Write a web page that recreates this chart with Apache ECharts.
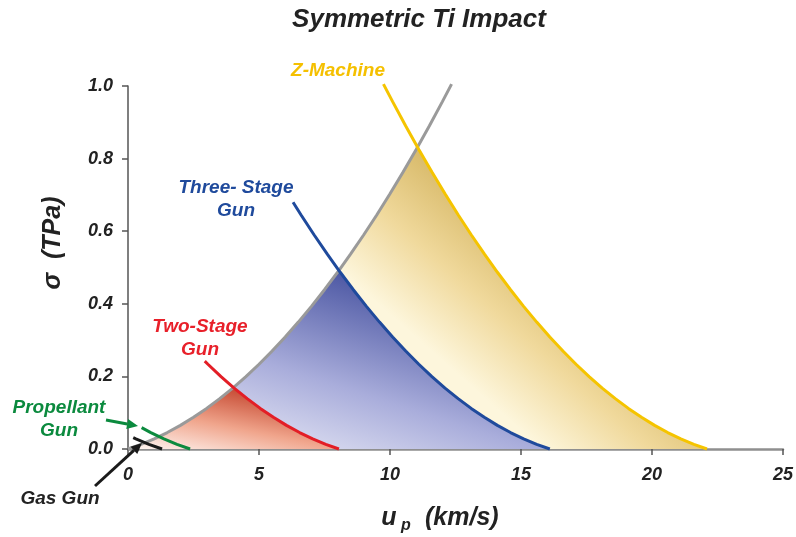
<!DOCTYPE html>
<html>
<head>
<meta charset="utf-8">
<title>Symmetric Ti Impact</title>
<script src="https://cdn.jsdelivr.net/npm/echarts@6/dist/echarts.min.js"></script>
<style>
  html, body { margin: 0; padding: 0; background: #ffffff; }
  #chart { width: 796px; height: 537px; }
</style>
</head>
<body>
<div id="chart"></div>
<script>
// Principal Hugoniot of Ti: stress sigma (TPa) against particle velocity u_p (km/s)
const hugoniot = [
  [0, 0], [0.5, 0.0127], [1, 0.0278], [1.5, 0.0453], [2, 0.0651], [2.5, 0.0873],
  [3, 0.1118], [3.5, 0.1387], [4, 0.1679], [4.5, 0.1995], [5, 0.2335], [5.5, 0.2698],
  [6, 0.3085], [6.5, 0.3496], [7, 0.3930], [7.5, 0.4388], [8, 0.4869], [8.5, 0.5374],
  [9, 0.5902], [9.5, 0.6454], [10, 0.7030], [10.5, 0.7629], [11, 0.8252], [11.5, 0.8899],
  [12, 0.9569], [12.35, 1.0052]
];

// Reflected impactor Hugoniots, one per launcher
const gasGun = [[0.2, 0.0311], [0.3, 0.0278], [0.8, 0.0127], [1.3, 0]];
const propellantGun = [[0.52, 0.0589], [0.87, 0.0453], [1.37, 0.0278], [1.87, 0.0127], [2.37, 0]];
const twoStageGun = [
  [2.93, 0.2420], [3.05, 0.2335], [3.55, 0.1995], [4.05, 0.1679], [4.55, 0.1387],
  [5.05, 0.1118], [5.55, 0.0873], [6.05, 0.0651], [6.55, 0.0453], [7.05, 0.0278],
  [7.55, 0.0127], [8.05, 0]
];
const threeStageGun = [
  [6.3, 0.6797], [6.6, 0.6454], [7.1, 0.5902], [7.6, 0.5374], [8.1, 0.4869], [8.6, 0.4388],
  [9.1, 0.3930], [9.6, 0.3496], [10.1, 0.3085], [10.6, 0.2698], [11.1, 0.2335],
  [11.6, 0.1995], [12.1, 0.1679], [12.6, 0.1387], [13.1, 0.1118], [13.6, 0.0873],
  [14.1, 0.0651], [14.6, 0.0453], [15.1, 0.0278], [15.6, 0.0127], [16.1, 0]
];
const zMachine = [
  [9.75, 1.0052], [10.1, 0.9569], [10.6, 0.8899], [11.1, 0.8252], [11.6, 0.7629],
  [12.1, 0.7030], [12.6, 0.6454], [13.1, 0.5902], [13.6, 0.5374], [14.1, 0.4869],
  [14.6, 0.4388], [15.1, 0.3930], [15.6, 0.3496], [16.1, 0.3085], [16.6, 0.2698],
  [17.1, 0.2335], [17.6, 0.1995], [18.1, 0.1679], [18.6, 0.1387], [19.1, 0.1118],
  [19.6, 0.0873], [20.1, 0.0651], [20.6, 0.0453], [21.1, 0.0278], [21.6, 0.0127], [22.1, 0]
];

// Where each impactor curve meets the Hugoniot (symmetric impact: u_p = v/2)
const twoStageCross = [4.025, 0.1695];
const threeStageCross = [8.05, 0.4918];
const zMachineCross = [11.05, 0.8316];

const xTicks = [0, 5, 10, 15, 20, 25];
const yTicks = [0.0, 0.2, 0.4, 0.6, 0.8, 1.0];

// Accessible states: under the Hugoniot up to the crossing, then under the impactor curve
function region(curve, cross) {
  const left = hugoniot.filter(p => p[0] < cross[0]);
  const right = curve.filter(p => p[0] > cross[0]);
  return left.concat([cross], right);
}

const FONT = '"Liberation Sans", Arial, sans-serif';
const textBase = { fontFamily: FONT, fontStyle: 'italic', fontWeight: 'bold' };

// Shading runs from pale at the lower left to deep at the peak
function grad(dir, stops) {
  return {
    type: 'linear', x: dir[0], y: dir[1], x2: dir[2], y2: dir[3],
    colorStops: stops.map((c, i) => ({ offset: i / (stops.length - 1), color: c }))
  };
}

function fillSeries(name, data, dir, stops) {
  return {
    name, type: 'line', data, symbol: 'none', silent: true,
    lineStyle: { width: 0, opacity: 0 },
    areaStyle: { color: grad(dir, stops), opacity: 1 }
  };
}

function curveSeries(name, data, color, width) {
  return {
    name, type: 'line', data, symbol: 'none', silent: true, clip: false,
    lineStyle: { color, width: width || 3 }
  };
}

function arrow(x1, y1, x2, y2, color) {
  const ang = Math.atan2(y2 - y1, x2 - x1);
  const hl = 11, hw = 5;
  const bx = x2 - hl * Math.cos(ang), by = y2 - hl * Math.sin(ang);
  const nx = -Math.sin(ang), ny = Math.cos(ang);
  return [
    { type: 'line', z: 100, shape: { x1, y1, x2: bx, y2: by }, style: { stroke: color, lineWidth: 3 } },
    { type: 'polygon', z: 100, shape: { points: [[x2, y2], [bx + nx * hw, by + ny * hw], [bx - nx * hw, by - ny * hw]] },
      style: { fill: color } }
  ];
}

function label(text, x, y, color, size) {
  return {
    type: 'text', z: 100, x, y,
    style: Object.assign({}, textBase, {
      text, fill: color, fontSize: size || 19, align: 'center', verticalAlign: 'middle', lineHeight: 23
    })
  };
}

const chart = echarts.init(document.getElementById('chart'), null, { renderer: 'canvas' });

chart.setOption({
  animation: false,
  backgroundColor: '#ffffff',
  title: {
    text: 'Symmetric Ti Impact',
    left: 414, top: 2, textAlign: 'center',
    textStyle: Object.assign({}, textBase, { fontSize: 26, color: '#222222' })
  },
  grid: { left: 128, right: 10, top: 86, bottom: 88 },
  xAxis: {
    type: 'value', min: xTicks[0], max: xTicks[xTicks.length - 1], interval: 5,
    splitLine: { show: false },
    axisLine: { show: true, onZero: false, lineStyle: { color: '#8f8f8f', width: 2.5 } },
    axisTick: { show: true, length: 6, lineStyle: { color: '#555555', width: 1.5 } },
    axisLabel: Object.assign({}, textBase, { fontSize: 18, color: '#222222', margin: 17 })
  },
  yAxis: {
    type: 'value', min: yTicks[0], max: yTicks[yTicks.length - 1], interval: 0.2,
    splitLine: { show: false },
    axisLine: { show: true, lineStyle: { color: '#555555', width: 1.5 } },
    axisTick: { show: true, length: 6, lineStyle: { color: '#555555', width: 1.5 } },
    axisLabel: Object.assign({}, textBase, {
      fontSize: 18, color: '#222222', margin: 15, formatter: v => v.toFixed(1)
    })
  },
  series: [
    fillSeries('Z-Machine region', region(zMachine, zMachineCross),
      [0.366, 0.408, 0.53, 0.052], ['#fdf6dc', '#f0d99c', '#d8ba6a']),
    fillSeries('Three-Stage region', region(threeStageGun, threeStageCross),
      [0.01, 0.93, 0.169, -0.25], ['#f4f5fb', '#a9addb', '#4c57a3']),
    fillSeries('Two-Stage region', region(twoStageGun, twoStageCross),
      [0, 1, 0.075, -0.31], ['#fff8f5', '#f0a58c', '#c4462f']),
    curveSeries('Hugoniot', hugoniot, '#9a9a9a', 3),
    curveSeries('Propellant Gun', propellantGun, '#0b8a3e', 3),
    curveSeries('Gas Gun', gasGun, '#1a1a1a', 3),
    curveSeries('Two-Stage Gun', twoStageGun, '#e31e26', 3),
    curveSeries('Three-Stage Gun', threeStageGun, '#1f4a9c', 3),
    curveSeries('Z-Machine', zMachine, '#f5c400', 3)
  ],
  graphic: [
    label('Z-Machine', 338, 71, '#f5c000'),
    label('Three- Stage\nGun', 236, 199, '#1f4a9c'),
    label('Two-Stage\nGun', 200, 338, '#e8202a'),
    label('Propellant\nGun', 59, 419, '#0b8a3e'),
    label('Gas Gun', 60, 499, '#222222'),
    ...arrow(106, 420, 138, 426, '#0b8a3e'),
    ...arrow(95, 486, 142, 443, '#1a1a1a'),
    // axis titles
    {
      type: 'text', z: 100, x: 53, y: 243, rotation: Math.PI / 2,
      style: Object.assign({}, textBase, { text: '\u03c3  (TPa)', fill: '#222222', fontSize: 25, align: 'center', verticalAlign: 'middle' })
    },
    {
      type: 'text', z: 100, x: 389, y: 518,
      style: Object.assign({}, textBase, { text: 'u', fill: '#222222', fontSize: 25, align: 'center', verticalAlign: 'middle' })
    },
    {
      type: 'text', z: 100, x: 406, y: 526,
      style: Object.assign({}, textBase, { text: 'p', fill: '#222222', fontSize: 16, align: 'center', verticalAlign: 'middle' })
    },
    {
      type: 'text', z: 100, x: 425, y: 518,
      style: Object.assign({}, textBase, { text: '(km/s)', fill: '#222222', fontSize: 25, align: 'left', verticalAlign: 'middle' })
    }
  ]
});
</script>
</body>
</html>
